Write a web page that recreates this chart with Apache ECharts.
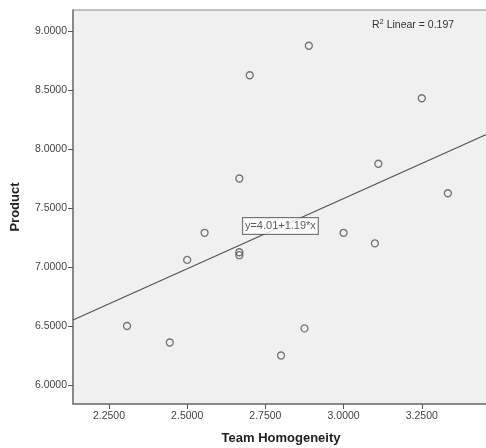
<!DOCTYPE html>
<html>
<head>
<meta charset="utf-8">
<script src="https://cdn.jsdelivr.net/npm/echarts@6/dist/echarts.min.js"></script>
<style>
html,body{margin:0;padding:0;background:#fff;}
#c{width:486px;height:448px;}
</style>
</head>
<body>
<div id="c"></div>
<script>
// Data
const teamHomogeneity = [2.3077, 2.4444, 2.50, 2.5556, 2.6667, 2.6667, 2.6667, 2.70, 2.80, 2.875, 2.8889, 3.00, 3.10, 3.1111, 3.25, 3.3333];
const product         = [6.50,   6.36,   7.06, 7.29,   7.125,  7.10,   7.75,   8.625, 6.25, 6.48, 8.875,  7.29, 7.20, 7.875,  8.43, 7.625];
const xTicks = [2.25, 2.5, 2.75, 3.0, 3.25];
const yTicks = [6.0, 6.5, 7.0, 7.5, 8.0, 8.5, 9.0];
const fitIntercept = 4.01;
const fitSlope = 1.19;
const rSquared = 0.197;
const xRange = [2.135, 3.5];
const yRange = [5.839, 9.178];
const eqLabelAt = [2.798, 7.347];

const points = teamHomogeneity.map((x, i) => [x, product[i]]);
const fitLine = xRange.map(x => [x, fitIntercept + fitSlope * x]);

const chart = echarts.init(document.getElementById('c'));
const fontFam = 'Liberation Sans, Arial, sans-serif';
chart.setOption({
  animation: false,
  backgroundColor: '#ffffff',
  grid: {
    left: 73, top: 10, width: 427, height: 394,
    outerBoundsMode: 'none', containLabel: false,
    show: true, backgroundColor: '#f0f0f0', borderColor: '#8a8a8a', borderWidth: 1
  },
  xAxis: {
    type: 'value', min: xRange[0], max: xRange[1],
    name: 'Team Homogeneity', nameLocation: 'middle', nameGap: 28,
    nameTextStyle: { fontFamily: fontFam, fontSize: 13, fontWeight: 'bold', color: '#222', padding: [0, 11, 0, 0] },
    axisLine: { show: true, lineStyle: { color: '#777', width: 1.5 } },
    axisTick: { show: true, length: 5, customValues: xTicks, lineStyle: { color: '#555' } },
    axisLabel: { customValues: xTicks, margin: 7, fontFamily: fontFam, fontSize: 10.5, color: '#444',
      formatter: v => v.toFixed(4) },
    splitLine: { show: false }
  },
  yAxis: {
    type: 'value', min: yRange[0], max: yRange[1],
    name: 'Product', nameLocation: 'middle', nameGap: 51,
    nameTextStyle: { fontFamily: fontFam, fontSize: 13, fontWeight: 'bold', color: '#222' },
    axisLine: { show: true, lineStyle: { color: '#777', width: 1.5 } },
    axisTick: { show: true, length: 5, customValues: yTicks, lineStyle: { color: '#555' } },
    axisLabel: { customValues: yTicks, margin: 6, fontFamily: fontFam, fontSize: 10.5, color: '#444',
      formatter: v => v.toFixed(4) },
    splitLine: { show: false }
  },
  series: [
    {
      type: 'line', data: fitLine, symbol: 'none', silent: true,
      lineStyle: { color: '#555', width: 1.3 }, z: 2
    },
    {
      type: 'scatter', data: points, symbol: 'circle', symbolSize: 7,
      itemStyle: { color: 'rgba(0,0,0,0)', borderColor: '#555', borderWidth: 1.3 }, z: 3
    },
    {
      type: 'scatter', data: [eqLabelAt], symbolSize: 0, silent: true, z: 5,
      label: {
        show: true, position: 'inside',
        formatter: 'y=' + fitIntercept.toFixed(2) + '+' + fitSlope.toFixed(2) + '*x',
        fontFamily: fontFam, fontSize: 11, color: '#333',
        backgroundColor: '#ffffff', borderColor: '#555', borderWidth: 1,
        padding: [3, 2, 2, 2]
      }
    }
  ],
  graphic: [
    {
      type: 'text', left: 372, top: 18, z: 10,
      style: {
        text: '{n|R}{s|2}{n| Linear = ' + rSquared.toFixed(3) + '}',
        rich: {
          n: { fontFamily: fontFam, fontSize: 10.5, fill: '#333', verticalAlign: 'bottom' },
          s: { fontFamily: fontFam, fontSize: 7.5, fill: '#333', verticalAlign: 'top', padding: [0, 0, 5, 0] }
        }
      }
    }
  ]
});
</script>
</body>
</html>
